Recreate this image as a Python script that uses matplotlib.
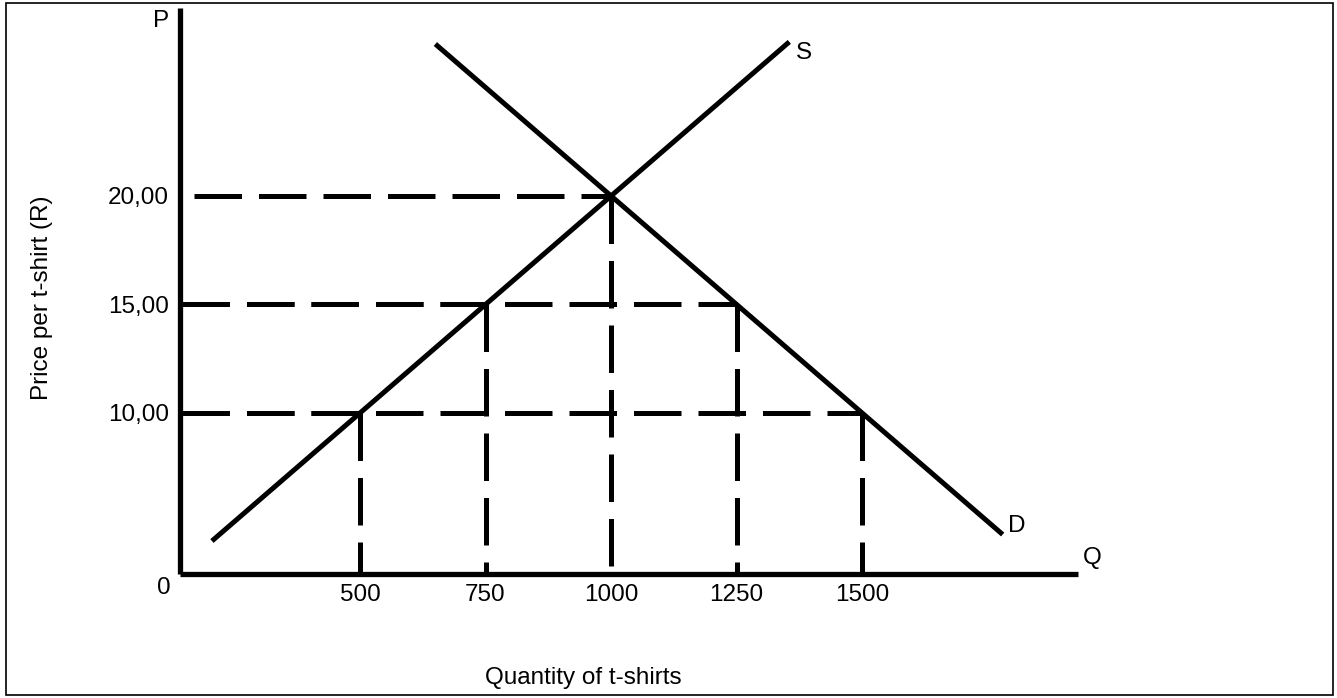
import matplotlib
matplotlib.use("Agg")
import matplotlib.pyplot as plt
from matplotlib.patches import Rectangle

# supply and demand end points (quantity, price)
supply_q = [205, 1355]
supply_p = [4.1, 27.1]
demand_q = [650, 1780]
demand_p = [27.0, 4.4]

# dashed guide lines: price level, start of horizontal, quantity where it meets a curve
guide_prices = [20, 15, 15, 10, 10]
guide_q = [1000, 750, 1250, 500, 1500]
guide_start = [170, 145, 145, 145, 145]

xticks = [500, 750, 1000, 1250, 1500]
xtick_labels = ["500", "750", "1000", "1250", "1500"]
yticks = [10, 15, 20]
ytick_labels = ["10,00", "15,00", "20,00"]

FS = 17.5

W, H = 1337, 698
plt.rcParams["font.family"] = ["Liberation Sans", "DejaVu Sans"]
fig = plt.figure(figsize=(W / 100, H / 100), dpi=100)

# frame round the whole picture
fig.patches.append(Rectangle((6 / W, 3 / H), 1327 / W, 692 / H, transform=fig.transFigure,
                             fill=False, edgecolor="black", linewidth=1.2))

ax = fig.add_axes([180 / W, (H - 574) / H, 898 / W, 566 / H])
ax.set_xlim(141.4, 1930)
ax.set_ylim(2.58, 28.66)

for s in ["top", "right"]:
    ax.spines[s].set_visible(False)
for s in ["left", "bottom"]:
    ax.spines[s].set_linewidth(3.8)
    ax.spines[s].set_capstyle("butt")

lw = 3.6
ax.plot(supply_q, supply_p, color="black", linewidth=lw, solid_capstyle="butt")
ax.plot(demand_q, demand_p, color="black", linewidth=lw, solid_capstyle="butt")

dash = (0, (9.5, 3.4))
y0 = 2.58
for p, q, s in zip(guide_prices, guide_q, guide_start):
    ax.plot([s, q], [p, p], color="black", linewidth=lw, linestyle=dash, dash_capstyle="butt")
for p, q in zip(guide_prices, guide_q):
    ax.plot([q, q], [p, y0], color="black", linewidth=lw, linestyle=dash, dash_capstyle="butt")

ax.set_xticks(xticks, xtick_labels, fontsize=FS)
ax.set_yticks(yticks, ytick_labels, fontsize=FS)
ax.tick_params(length=0)
ax.tick_params(axis="x", pad=7)
ax.tick_params(axis="y", pad=8)

ax.text(-0.01, -0.005, "0", transform=ax.transAxes, ha="right", va="top", fontsize=FS)
ax.text(-0.012, 0.997, "P", transform=ax.transAxes, ha="right", va="top", fontsize=FS)
ax.text(1.005, 0.028, "Q", transform=ax.transAxes, ha="left", va="center", fontsize=FS)
ax.annotate("S", (supply_q[1], supply_p[1]), xytext=(5, -8), textcoords="offset points",
            ha="left", va="center", fontsize=FS)
ax.annotate("D", (demand_q[1], demand_p[1]), xytext=(4, 6), textcoords="offset points",
            ha="left", va="center", fontsize=FS)

fig.text(42 / W, 1 - 298 / H, "Price per t-shirt (R)", rotation=90, ha="center", va="center", fontsize=FS)
fig.text(485 / W, 1 - 678 / H, "Quantity of t-shirts", ha="left", va="center", fontsize=FS)

fig.savefig("out.png", dpi=100)
